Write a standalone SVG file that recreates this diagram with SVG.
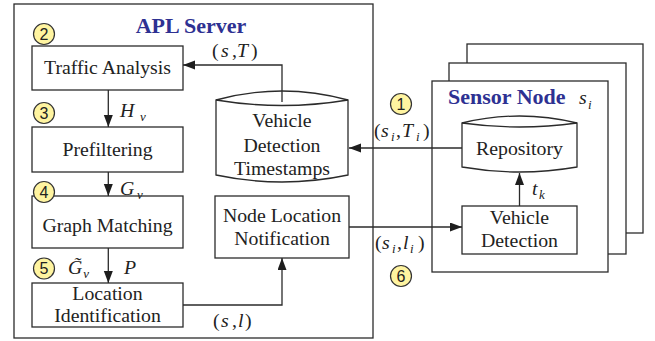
<svg xmlns="http://www.w3.org/2000/svg" width="655" height="341" viewBox="0 0 655 341">
  <defs>
    <style>
      .box { fill: #ffffff; stroke: #2b2b2b; stroke-width: 1.3; }
      .conn { fill: none; stroke: #2b2b2b; stroke-width: 1.3; }
      .lbl { font-family: "Liberation Serif", "Times New Roman", "DejaVu Serif", serif; font-size: 19.8px; fill: #222222; }
      .ctr { text-anchor: middle; }
      .math { font-family: "Liberation Serif", "Times New Roman", "DejaVu Serif", serif; font-size: 19.8px; fill: #222222; }
      .it { font-style: italic; }
      .sub { font-family: "Liberation Serif", "Times New Roman", "DejaVu Serif", serif; font-style: italic; font-size: 13px; fill: #222222; }
      .title { font-family: "Liberation Serif", "Times New Roman", "DejaVu Serif", serif; font-weight: bold; font-size: 22px; fill: #2e3192; }
      .step circle { fill: #fff4a0; stroke: #333333; stroke-width: 1.2; }
      .step text { font-family: "Liberation Sans", Arial, sans-serif; font-size: 16px; fill: #222222; text-anchor: middle; }
    </style>
    <marker id="arrow" markerUnits="userSpaceOnUse" markerWidth="13" markerHeight="10" refX="12" refY="4.5" orient="auto">
      <path d="M0,0 L12,4.5 L0,9 z" fill="#1e1e1e"/>
    </marker>
  </defs>

  <rect width="655" height="341" fill="#ffffff"/>

  <!-- APL server frame -->
  <g id="apl-server">
    <rect class="box" x="14" y="4" width="359" height="334"/>
    <text class="title ctr" x="191" y="33">APL Server</text>
  </g>

  <!-- Sensor node stack (two copies behind the front one) -->
  <g id="sensor-node">
    <rect class="box" x="467" y="44" width="176" height="189"/>
    <rect class="box" x="449" y="63" width="177" height="191"/>
    <rect class="box" x="432" y="81" width="176" height="191"/>
    <text class="title" x="448" y="104">Sensor Node</text>
    <text class="math it" x="579" y="104">s</text>
    <text class="sub" x="588" y="109">i</text>
  </g>

  <g id="traffic-analysis">
    <rect class="box" x="32" y="46" width="151" height="44"/>
    <text class="lbl ctr" x="107.5" y="74">Traffic Analysis</text>
  </g>

  <g id="prefiltering">
    <rect class="box" x="32" y="127" width="151" height="45"/>
    <text class="lbl ctr" x="107.5" y="156">Prefiltering</text>
  </g>

  <g id="graph-matching">
    <rect class="box" x="32" y="196" width="151" height="52"/>
    <text class="lbl ctr" x="107.5" y="232">Graph Matching</text>
  </g>

  <g id="location-identification">
    <rect class="box" x="32" y="283" width="151" height="44"/>
    <text class="lbl ctr" x="107.5" y="300">Location</text>
    <text class="lbl ctr" x="107.5" y="322">Identification</text>
  </g>

  <g id="vehicle-detection-timestamps">
    <path class="box" d="M216,100 Q282,82 348,100 L348,175 Q282,189 216,175 Z"/>
    <path class="conn" d="M216,100 Q282,111 348,100"/>
    <text class="lbl ctr" x="282" y="127">Vehicle</text>
    <text class="lbl ctr" x="282" y="152">Detection</text>
    <text class="lbl ctr" x="282" y="175">Timestamps</text>
  </g>

  <g id="node-location-notification">
    <rect class="box" x="215" y="196" width="134" height="62"/>
    <text class="lbl ctr" x="282" y="222">Node Location</text>
    <text class="lbl ctr" x="282" y="245">Notification</text>
  </g>

  <g id="repository">
    <path class="box" d="M462,123 Q519.5,109 577,123 L577,167 Q519.5,177 462,167 Z"/>
    <path class="conn" d="M462,123 Q519.5,131 577,123"/>
    <text class="lbl ctr" x="519.5" y="155">Repository</text>
  </g>

  <g id="vehicle-detection">
    <rect class="box" x="462" y="206" width="115" height="48"/>
    <text class="lbl ctr" x="519.5" y="224">Vehicle</text>
    <text class="lbl ctr" x="519.5" y="247">Detection</text>
  </g>

  <!-- connectors -->
  <g id="connectors">
    <line class="conn" x1="108.3" y1="90" x2="108.3" y2="127" marker-end="url(#arrow)"/>
    <line class="conn" x1="108.3" y1="172" x2="108.3" y2="196" marker-end="url(#arrow)"/>
    <line class="conn" x1="108.3" y1="248" x2="108.3" y2="283" marker-end="url(#arrow)"/>
    <polyline class="conn" points="183,305 282,305 282,258" marker-end="url(#arrow)"/>
    <polyline class="conn" points="282,102 282,65 183,65" marker-end="url(#arrow)"/>
    <line class="conn" x1="462" y1="148" x2="349" y2="148" marker-end="url(#arrow)"/>
    <line class="conn" x1="349" y1="227" x2="462" y2="227" marker-end="url(#arrow)"/>
    <line class="conn" x1="519.5" y1="206" x2="519.5" y2="173" marker-end="url(#arrow)"/>
  </g>

  <!-- connector labels -->
  <g id="labels">
    <text class="math" y="57"><tspan x="212">(</tspan><tspan class="it" x="221">s</tspan><tspan x="232">,</tspan><tspan class="it" x="237">T</tspan><tspan x="251">)</tspan></text>
    <text class="math it" x="120" y="117">H</text>
    <text class="sub" x="140" y="121">v</text>
    <text class="math it" x="120" y="195">G</text>
    <text class="sub" x="137" y="199">v</text>
    <text class="math it" x="68" y="274">G&#x0303;<tspan class="sub" dx="1" dy="4">v</tspan></text>
    <text class="math it" x="124" y="274">P</text>
    <text class="math" y="327"><tspan x="213">(</tspan><tspan class="it" x="221">s</tspan><tspan x="232">,</tspan><tspan class="it" x="238">l</tspan><tspan x="245">)</tspan></text>
    <text class="math" y="137"><tspan x="374">(</tspan><tspan class="it" x="381">s</tspan><tspan class="sub" x="391" y="141">i</tspan><tspan x="396" y="137">,</tspan><tspan class="it" x="402">T</tspan><tspan class="sub" x="416" y="141">i</tspan><tspan x="423" y="137">)</tspan></text>
    <text class="math" y="249"><tspan x="375">(</tspan><tspan class="it" x="382">s</tspan><tspan class="sub" x="392" y="253">i</tspan><tspan x="397" y="249">,</tspan><tspan class="it" x="403">l</tspan><tspan class="sub" x="410" y="253">i</tspan><tspan x="418" y="249">)</tspan></text>
    <text class="math it" x="532" y="195">t</text>
    <text class="sub" x="539" y="199">k</text>
  </g>

  <!-- step markers -->
  <g id="step-1" class="step"><circle cx="401" cy="104" r="10.5"/><text x="401" y="109.5">1</text></g>
  <g id="step-2" class="step"><circle cx="44" cy="34" r="10.5"/><text x="44" y="39.5">2</text></g>
  <g id="step-3" class="step"><circle cx="44" cy="113" r="10.5"/><text x="44" y="118.5">3</text></g>
  <g id="step-4" class="step"><circle cx="44" cy="192" r="10.5"/><text x="44" y="197.5">4</text></g>
  <g id="step-5" class="step"><circle cx="44" cy="268.5" r="10.5"/><text x="44" y="274">5</text></g>
  <g id="step-6" class="step"><circle cx="401" cy="276" r="10.5"/><text x="401" y="281.5">6</text></g>
</svg>
